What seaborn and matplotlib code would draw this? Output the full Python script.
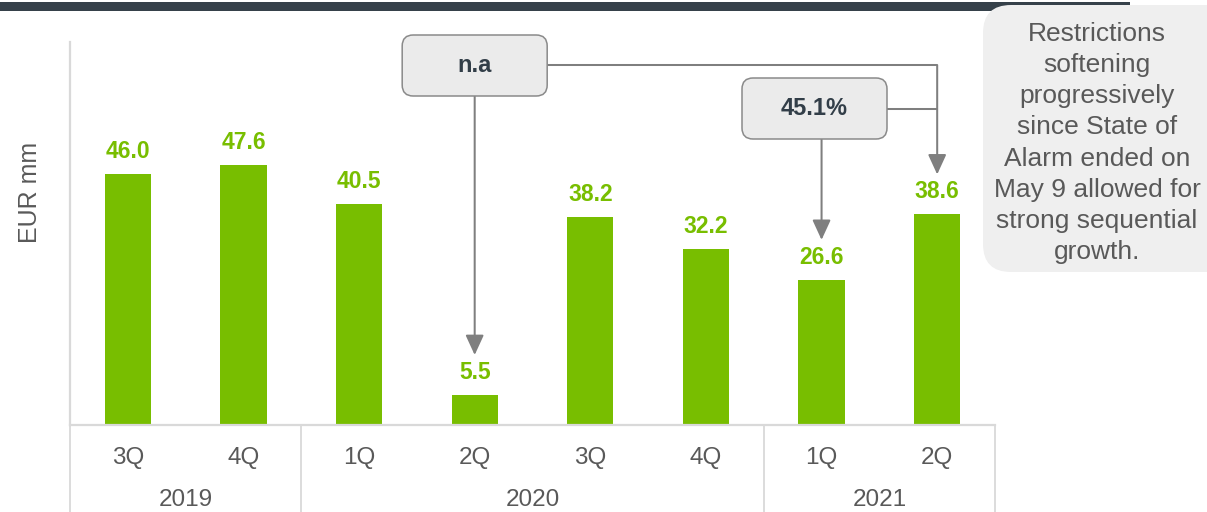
import matplotlib
matplotlib.use("Agg")
import matplotlib.pyplot as plt
import matplotlib.transforms as mtransforms
from matplotlib.patches import FancyBboxPatch, Rectangle, FancyArrowPatch
import pandas as pd
import seaborn as sns

# ---- data -------------------------------------------------------------
quarters = ["3Q", "4Q", "1Q", "2Q", "3Q", "4Q", "1Q", "2Q"]
years = ["2019", "2020", "2021"]
quarters_per_year = [2, 4, 2]
values = [46.0, 47.6, 40.5, 5.5, 38.2, 32.2, 26.6, 38.6]
ylabel = "EUR mm"
note_text = ("Restrictions\nsoftening\nprogressively\nsince State of\n"
             "Alarm ended on\nMay 9 allowed for\nstrong sequential\ngrowth.")
yoy_text = "n.a"

# ---- style ------------------------------------------------------------
GREEN = "#78be00"
GREY_TXT = "#595959"
AXIS_GREY = "#d9d9d9"
LINE_GREY = "#7f7f7f"
DARK = "#323e48"

sns.set_style("white")
plt.rcParams["font.family"] = ["Liberation Sans", "DejaVu Sans"]

W, H = 1207, 512
fig = plt.figure(figsize=(W / 100, H / 100), dpi=100)

ax = fig.add_axes([70 / W, 1 - 425 / H, 925 / W, 383 / H])

period_keys = []
k = 0
for yr, n in zip(years, quarters_per_year):
    for _ in range(n):
        period_keys.append(f"{quarters[k]} {yr}")
        k += 1
df = pd.DataFrame({"period": period_keys, "value": values})

sns.barplot(data=df, x="period", y="value", order=period_keys, color=GREEN,
            saturation=1, width=0.4, linewidth=0, ax=ax)

ax.set_xlim(-0.5, len(values) - 0.5)
ax.set_ylim(0, 70.2)
ax.set_xlabel("")
ax.set_ylabel("")
ax.set_yticks([])
ax.set_xticks(range(len(quarters)))
ax.set_xticklabels(quarters, fontsize=17.5, color=GREY_TXT)
ax.tick_params(axis="x", length=0, pad=15.5)
for side in ["top", "right"]:
    ax.spines[side].set_visible(False)
for side in ["left", "bottom"]:
    ax.spines[side].set_color(AXIS_GREY)
    ax.spines[side].set_linewidth(1.6)

# value labels above bars
for i, v in enumerate(values):
    ax.annotate(f"{v:.1f}", (i, v), xytext=(0, 11.5), textcoords="offset points",
                ha="center", va="baseline", fontsize=16.5, fontweight="bold",
                color=GREEN)

# year grouping below the quarter labels
blend = mtransforms.blended_transform_factory(ax.transData, ax.transAxes)
depth = -(512 - 425) / 383
edges = [-0.5]
for n in quarters_per_year:
    edges.append(edges[-1] + n)
for e in edges:
    ax.plot([e, e], [0, depth], transform=blend, color=AXIS_GREY, lw=1.3,
            clip_on=False)
for yr, a, b in zip(years, edges[:-1], edges[1:]):
    ax.text((a + b) / 2, -(506 - 425) / 383, yr, transform=blend, ha="center",
            va="baseline", fontsize=17.5, color=GREY_TXT)

fig.text(30 / W, 1 - 192 / H, ylabel, rotation=90, ha="center", va="center",
         fontsize=18, color=GREY_TXT)

# ---- annotation layer in figure pixels --------------------------------
ov = fig.add_axes([0, 0, 1, 1], zorder=5)
ov.set_xlim(0, W)
ov.set_ylim(H, 0)
ov.axis("off")
ov.patch.set_alpha(0)


def bar_px(i):
    x, y = ax.transData.transform((i, values[i]))
    return x, H - y


# top header band and side note
ov.add_patch(Rectangle((0, 2), 1130, 9, color="#36414a", lw=0, zorder=1))
ov.add_patch(FancyBboxPatch((983, 5), 270, 267,
                            boxstyle="round,pad=0,rounding_size=28",
                            fc="#efefef", ec="none", zorder=2))
ov.text(1097, 143, note_text, ha="center", va="center", multialignment="center",
        fontsize=19, color=GREY_TXT, linespacing=1.37, zorder=3)

qoq = (values[7] / values[6] - 1) * 100
qoq_text = f"{qoq:.1f}%"

ARROW = "-|>,head_length=12.2,head_width=5.6"
LW = 1.45


def arrow_down(x, y0, y1):
    ov.add_patch(FancyArrowPatch((x, y0), (x, y1), arrowstyle=ARROW,
                                 mutation_scale=1, color=LINE_GREY, lw=LW,
                                 shrinkA=0, shrinkB=0, zorder=3))


def callout(left, top, w, h, text):
    ov.add_patch(FancyBboxPatch((left, top), w, h,
                                boxstyle="round,pad=0,rounding_size=11",
                                fc="#ebebeb", ec="#8a8a8a", lw=1.1, zorder=4))
    ov.text(left + w / 2, top + h / 2, text, ha="center", va="center",
            fontsize=17, fontweight="bold", color=DARK, zorder=5)


gap = 40  # space kept above each value label
x3, t3 = bar_px(3)
x6, t6 = bar_px(6)
x7, t7 = bar_px(7)

# year-on-year callout linking 2Q20 and 2Q21
box1 = (x3 - 72.5, 35, 145, 61)
arrow_down(x3, box1[1] + box1[3], t3 - gap)
ov.plot([box1[0] + box1[2], x7], [65, 65], color=LINE_GREY, lw=LW, zorder=3,
        solid_capstyle="butt")
arrow_down(x7, 65, t7 - gap)
callout(*box1, yoy_text)

# quarter-on-quarter callout linking 1Q21 and 2Q21
box2 = (742, 78, 145, 61)
arrow_down(x6, box2[1] + box2[3], t6 - gap)
ov.plot([box2[0] + box2[2], x7], [109, 109], color=LINE_GREY, lw=LW, zorder=3,
        solid_capstyle="butt")
callout(*box2, qoq_text)

fig.savefig("out.png", dpi=100)
